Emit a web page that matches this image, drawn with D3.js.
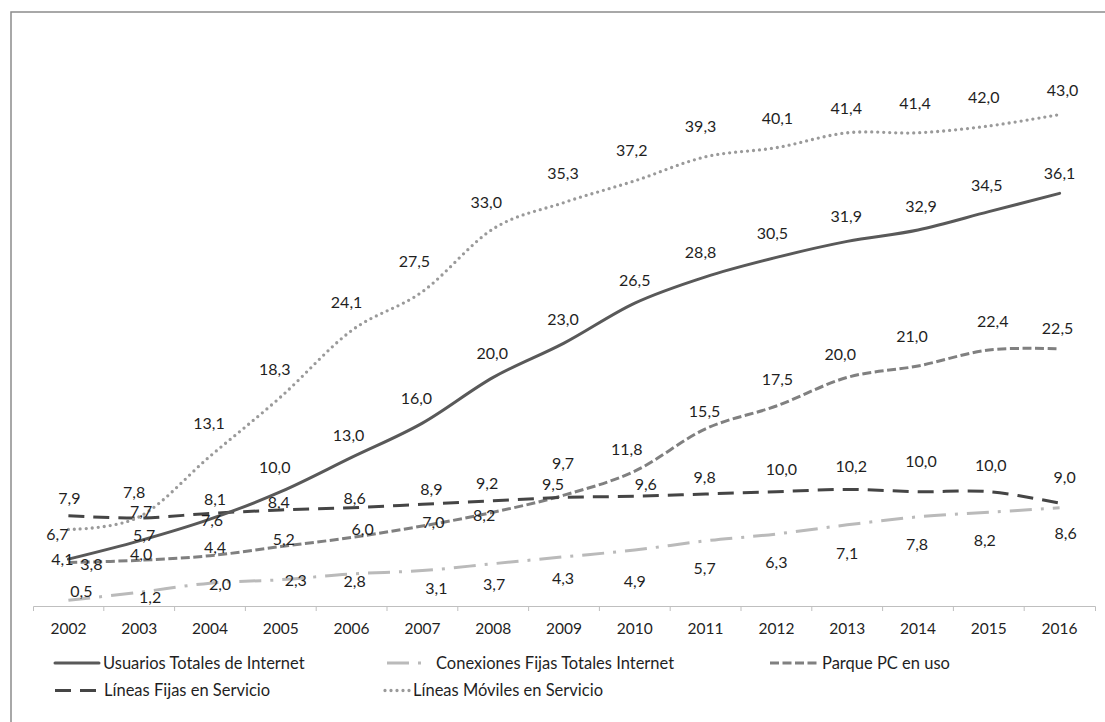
<!DOCTYPE html>
<html>
<head>
<meta charset="utf-8">
<script src="https://cdn.jsdelivr.net/npm/d3@7"></script>
<style>
  html, body { margin: 0; padding: 0; background: #fff; }
  svg { display: block; font-family: Lato, "Open Sans", sans-serif; }
</style>
</head>
<body>
<svg id="chart" width="1105" height="722"></svg>
<script>
// Categories (years)
const years = ["2002","2003","2004","2005","2006","2007","2008","2009","2010","2011","2012","2013","2014","2015","2016"];

// Series values (millions)
const usuariosInternet = [4.1, 5.7, 7.6, 10.0, 13.0, 16.0, 20.0, 23.0, 26.5, 28.8, 30.5, 31.9, 32.9, 34.5, 36.1];
const conexionesFijas  = [0.5, 1.2, 2.0, 2.3, 2.8, 3.1, 3.7, 4.3, 4.9, 5.7, 6.3, 7.1, 7.8, 8.2, 8.6];
const parquePC         = [3.8, 4.0, 4.4, 5.2, 6.0, 7.0, 8.2, 9.7, 11.8, 15.5, 17.5, 20.0, 21.0, 22.4, 22.5];
const lineasFijas      = [7.9, 7.7, 8.1, 8.4, 8.6, 8.9, 9.2, 9.5, 9.6, 9.8, 10.0, 10.2, 10.0, 10.0, 9.0];
const lineasMoviles    = [6.7, 7.8, 13.1, 18.3, 24.1, 27.5, 33.0, 35.3, 37.2, 39.3, 40.1, 41.4, 41.4, 42.0, 43.0];

// Series names as shown in the legend
const seriesNames = [
  "Usuarios Totales de Internet",
  "Conexiones Fijas Totales Internet",
  "Parque PC en uso",
  "Líneas Fijas en Servicio",
  "Líneas Móviles en Servicio"
];

// Data-label nudges [dx, dy] in px relative to each point
const usuariosLabelShift = [[-6,0],[5,-6],[2,1],[-6,-24],[-3,-22],[-6,-25],[-1,-24],[-1,-24],[0,-23],[-5,-25],[-4,-24],[-1,-25],[3,-24],[-2,-26],[0,-20]];
const conexionesLabelShift = [[13,-9],[11,5],[10,1],[15,1],[3,7],[14,18],[1,21],[-1,21],[0,31],[-1,27],[0,28],[0,28],[-1,27],[-4,28],[6,26]];
const pcLabelShift = [[23,2],[2,-6],[5,-8],[3,-7],[11,-8],[11,-4],[-9,3],[-1,-32],[-8,-22],[-1,-18],[1,-27],[-7,-23],[-6,-30],[4,-29],[-2,-21]];
const fijasLabelShift = [[1,-17],[2,-7],[5,-14],[-2,-8],[3,-9],[9,-15],[-6,-18],[-11,-13],[11,-12],[-1,-17],[5,-22],[4,-23],[3,-30],[2,-26],[5,-26]];
const movilesLabelShift = [[-11,5],[-5,-25],[-1,-33],[-6,-28],[-5,-28],[-8,-30],[-7,-27],[-1,-29],[-3,-31],[-5,-31],[1,-29],[-1,-25],[-3,-30],[-5,-29],[3,-24]];

// Line styles per series
const styles = {
  "Usuarios Totales de Internet":      { color: "#595959", width: 3,   dash: null,       cap: "round" },
  "Conexiones Fijas Totales Internet": { color: "#bababa", width: 3,   dash: "22,9,3,9", cap: "butt" },
  "Parque PC en uso":                  { color: "#808080", width: 3,   dash: "9,3.5",    cap: "butt" },
  "Líneas Fijas en Servicio":          { color: "#454545", width: 3,   dash: "16,9",     cap: "butt" },
  "Líneas Móviles en Servicio":        { color: "#9a9a9a", width: 3.3, dash: "0,6",      cap: "round" }
};

const seriesTable = [
  { name: seriesNames[0], values: usuariosInternet, shift: usuariosLabelShift },
  { name: seriesNames[1], values: conexionesFijas,  shift: conexionesLabelShift },
  { name: seriesNames[2], values: parquePC,         shift: pcLabelShift },
  { name: seriesNames[3], values: lineasFijas,      shift: fijasLabelShift },
  { name: seriesNames[4], values: lineasMoviles,    shift: movilesLabelShift }
];

const textColor = "#1f1f1f";
const svg = d3.select("#chart");

// Outer frame (only the top and left edges fall inside the canvas)
svg.append("rect")
  .attr("x", 11).attr("y", 12)
  .attr("width", 1110).attr("height", 730)
  .attr("fill", "#fff")
  .attr("stroke", "#8c8c8c").attr("stroke-width", 1.5);

const x = d3.scaleBand().domain(years).range([33, 1095]).paddingInner(0).paddingOuter(0);
const y = d3.scaleLinear().domain([0, 50]).range([606, 606 - 571.5]);
const cx = d => x(d) + x.bandwidth() / 2;

// Category axis
const axis = svg.append("g")
  .attr("transform", "translate(0,606)")
  .call(d3.axisBottom(x).tickSizeInner(0).tickSizeOuter(5).tickPadding(17));
axis.select(".domain").attr("stroke", "#bfbfbf").attr("stroke-width", 1);
axis.selectAll(".tick text")
  .attr("font-family", "Lato, sans-serif")
  .attr("font-size", "15.5px")
  .attr("fill", textColor);

// Tick marks between categories
axis.selectAll("line.boundary")
  .data(years.slice(1))
  .join("line")
  .attr("class", "boundary")
  .attr("x1", d => x(d)).attr("x2", d => x(d))
  .attr("y1", 0).attr("y2", 5)
  .attr("stroke", "#bfbfbf").attr("stroke-width", 1);

// Smoothed lines
const line = d3.line()
  .x((d, i) => cx(years[i]))
  .y(d => y(d))
  .curve(d3.curveCardinal.tension(0));

const drawOrder = [1, 2, 3, 0, 4];
drawOrder.forEach(k => {
  const s = seriesTable[k];
  const st = styles[s.name];
  svg.append("path")
    .datum(s.values)
    .attr("d", line)
    .attr("fill", "none")
    .attr("stroke", st.color)
    .attr("stroke-width", st.width)
    .attr("stroke-linecap", st.cap)
    .attr("stroke-linejoin", "round")
    .attr("stroke-dasharray", st.dash);
});

// Data labels
const fmt = v => d3.format(".1f")(v).replace(".", ",");
seriesTable.forEach(s => {
  svg.append("g")
    .selectAll("text")
    .data(s.values)
    .join("text")
    .attr("x", (d, i) => cx(years[i]) + s.shift[i][0])
    .attr("y", (d, i) => y(d) + s.shift[i][1])
    .attr("dy", "0.36em")
    .attr("text-anchor", "middle")
    .attr("font-size", "16px")
    .attr("fill", textColor)
    .text(fmt);
});

// Legend
const legendLayout = [
  { x0: 55,  x1: 99,  tx: 103, ty: 663 },
  { x0: 387, x1: 426, tx: 436, ty: 663 },
  { x0: 770, x1: 820, tx: 822, ty: 663 },
  { x0: 55,  x1: 97,  tx: 104, ty: 690.5 },
  { x0: 385, x1: 411, tx: 413, ty: 690.5 }
];
const legend = svg.append("g");
seriesTable.forEach((s, k) => {
  const st = styles[s.name];
  const L = legendLayout[k];
  legend.append("line")
    .attr("x1", L.x0).attr("x2", L.x1)
    .attr("y1", L.ty).attr("y2", L.ty)
    .attr("stroke", st.color)
    .attr("stroke-width", st.width)
    .attr("stroke-linecap", st.cap)
    .attr("stroke-dasharray", st.dash);
  legend.append("text")
    .attr("x", L.tx).attr("y", L.ty)
    .attr("dy", "0.36em")
    .attr("font-size", "16.5px")
    .attr("fill", textColor)
    .text(s.name);
});
</script>
</body>
</html>
